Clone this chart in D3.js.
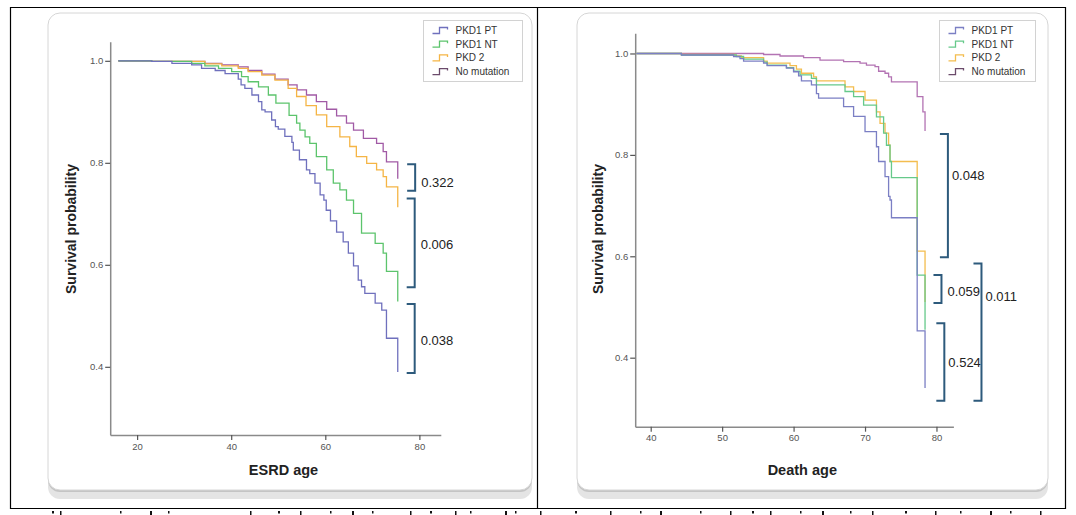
<!DOCTYPE html>
<html><head><meta charset="utf-8">
<script src="https://cdn.jsdelivr.net/npm/d3@7"></script>
<style>
body{margin:0;background:#fff}
svg{display:block}
text{font-family:"Liberation Sans",Arial,sans-serif}
</style>
</head><body>
<svg id="chart" width="1076" height="515"></svg>
<script>
// ---------- data ----------
const seriesNames = ["PKD1 PT", "PKD1 NT", "PKD 2", "No mutation"];
const seriesColorsEsrd = ["#6f70bd", "#5cc46c", "#f5b545", "#a15aa5"];
const seriesColorsDeath = ["#7b7fc4", "#66c98a", "#f3bd4f", "#b373b3"];

// ESRD age panel: [age, survival probability]
const esrdPKD1PT = [[16,1.0],[23.1,0.999],[27.4,0.995],[31.6,0.992],[33.7,0.985],[36.6,0.981],[38.7,0.975],[41.5,0.964],[42.1,0.953],[42.9,0.946],[44.4,0.933],[45.8,0.920],[46.5,0.904],[47.2,0.900],[48.6,0.884],[49.4,0.871],[50.0,0.866],[51.4,0.852],[52.9,0.840],[53.2,0.825],[54.5,0.806],[56.0,0.786],[56.7,0.779],[57.8,0.760],[58.9,0.737],[59.7,0.727],[60.2,0.707],[61.1,0.686],[62.4,0.664],[63.8,0.645],[64.9,0.623],[66.0,0.598],[67.0,0.570],[67.7,0.557],[68.4,0.544],[70.6,0.525],[72.0,0.511],[73.0,0.456],[75.4,0.390]];
const esrdPKD1NT = [[16,1.0],[23.1,0.999],[31.6,0.995],[34.4,0.990],[37.3,0.985],[40.1,0.979],[42.2,0.969],[43.6,0.959],[45.8,0.949],[47.9,0.933],[49.5,0.917],[52.3,0.893],[53.9,0.878],[54.6,0.864],[55.7,0.851],[56.7,0.838],[58.1,0.812],[60.3,0.786],[61.7,0.760],[63.1,0.747],[64.5,0.727],[66.0,0.701],[67.7,0.662],[70.6,0.642],[72.3,0.623],[73.0,0.587],[75.4,0.528]];
const esrdPKD2 = [[16,1.0],[23.1,0.999],[34.4,0.994],[38.0,0.990],[41.5,0.985],[43.6,0.979],[46.5,0.972],[49.3,0.962],[52.1,0.946],[53.9,0.930],[55.9,0.912],[58.1,0.894],[60.3,0.871],[63.1,0.851],[65.2,0.832],[66.6,0.812],[68.8,0.799],[70.9,0.786],[72.3,0.773],[73.0,0.753],[75.4,0.713]];
const esrdNoMutation = [[16,1.0],[23.1,0.999],[34.4,0.995],[38.0,0.992],[41.5,0.988],[43.6,0.981],[46.5,0.974],[49.3,0.964],[52.1,0.953],[54.0,0.943],[56.0,0.933],[58.1,0.920],[60.3,0.905],[62.4,0.892],[64.5,0.878],[66.0,0.864],[68.1,0.848],[70.9,0.838],[72.3,0.822],[73.0,0.802],[75.4,0.769]];

// Death age panel: [age, survival probability]
const deathPKD1PT = [[38,1.0],[44.3,0.997],[51.6,0.994],[52.5,0.990],[53.0,0.985],[55.8,0.981],[56.3,0.976],[59.0,0.971],[60.0,0.964],[60.7,0.956],[61.1,0.946],[62.5,0.938],[63.2,0.921],[63.5,0.912],[67.0,0.895],[68.4,0.876],[70.0,0.846],[71.6,0.816],[71.9,0.787],[72.8,0.757],[73.3,0.718],[73.5,0.711],[73.7,0.676],[77.3,0.453],[78.4,0.340]];
const deathPKD1NT = [[38,1.0],[44.3,0.997],[52.0,0.994],[53.0,0.989],[55.8,0.983],[56.3,0.977],[59.0,0.972],[60.0,0.965],[60.9,0.958],[62.5,0.951],[63.2,0.938],[67.2,0.925],[68.4,0.915],[69.8,0.898],[71.6,0.875],[72.6,0.843],[73.0,0.819],[73.5,0.787],[73.7,0.755],[77.3,0.563],[78.4,0.455]];
const deathPKD2 = [[38,1.0],[44.3,0.998],[51.8,0.995],[52.7,0.992],[55.8,0.985],[56.3,0.981],[59.5,0.976],[60.4,0.969],[61.1,0.961],[62.8,0.954],[63.2,0.946],[67.2,0.934],[68.4,0.925],[70.0,0.908],[71.6,0.885],[72.1,0.862],[72.8,0.843],[73.3,0.819],[73.5,0.787],[77.3,0.610],[78.4,0.510]];
const deathNoMutation = [[38,1.0],[55.8,0.998],[58.1,0.995],[61.4,0.992],[63.7,0.987],[67.0,0.984],[69.3,0.981],[70.2,0.977],[71.4,0.974],[71.9,0.965],[72.8,0.961],[73.3,0.954],[73.7,0.944],[77.3,0.915],[78.1,0.885],[78.4,0.847]];

const esrdAgeTicks = [20, 40, 60, 80];
const deathAgeTicks = [40, 50, 60, 70, 80];
const survTicks = [0.4, 0.6, 0.8, 1.0];

// p-value annotations: label, survival span [top, bottom], bracket age, label survival level
const esrdPLabels = ["0.322", "0.006", "0.038"];
const esrdPSpans = [[0.797, 0.745], [0.730, 0.556], [0.523, 0.388]];
const esrdPAges = [79.1, 79.0, 79.0];
const esrdPLabelSurv = [0.762, 0.640, 0.452];

const deathPLabels = ["0.048", "0.059", "0.524", "0.011"];
const deathPSpans = [[0.841, 0.598], [0.563, 0.508], [0.468, 0.315], [0.586, 0.315]];
const deathPAges = [81.6, 80.7, 81.1, 86.3];
const deathPLabelSurv = [0.760, 0.531, 0.390, 0.520];

// ---------- drawing ----------
const svg = d3.select("#chart");

// outer document frame
const frame = svg.append("g").attr("stroke", "#000").attr("stroke-width", 1.2);
[[10.5,7,10.5,509],[537.5,7,537.5,509],[1065.5,7,1065.5,509],[10,7.5,1066,7.5],[10,508.5,1066,508.5]]
  .forEach(l => frame.append("line").attr("x1", l[0]).attr("y1", l[1]).attr("x2", l[2]).attr("y2", l[3]));
// clipped document text fragments below the frame
const frag = svg.append("g").attr("fill", "#111");
[52,60,120,150,168,250,278,300,330,352,372,410,430,455,470,505,515,540,575,610,640,660,700,730,752,770,800,822,850,872,905,935,960,990,1010,1040]
  .forEach((x, i) => frag.append("rect").attr("x", x).attr("y", 511).attr("width", i % 3 === 0 ? 2 : 1.5).attr("height", i % 2 ? 4 : 2.5));

function panel(o) {
  const g = svg.append("g");
  // card with shadow
  g.append("rect").attr("x", o.box[0]).attr("y", o.box[1] + 5).attr("width", o.box[2]).attr("height", o.box[3] + 4)
    .attr("rx", 12).attr("fill", "#e4e4e4");
  g.append("rect").attr("x", o.box[0]).attr("y", o.box[1] + 2).attr("width", o.box[2]).attr("height", o.box[3])
    .attr("rx", 12).attr("fill", "#c4c4c4");
  g.append("rect").attr("x", o.box[0]).attr("y", o.box[1]).attr("width", o.box[2]).attr("height", o.box[3])
    .attr("rx", 12).attr("fill", "#fff").attr("stroke", "#d6d6d6").attr("stroke-width", 1);

  const x = d3.scaleLinear().domain(o.xDomain).range(o.xRange);
  const y = d3.scaleLinear().domain(o.yDomain).range(o.yRange);

  const xAxis = g.append("g").attr("transform", `translate(0,${o.yRange[0]})`)
    .call(d3.axisBottom(x).tickValues(o.xTicks).tickFormat(d3.format("d")).tickSize(5).tickSizeOuter(0).tickPadding(3));
  const yAxis = g.append("g").attr("transform", `translate(${o.xRange[0]},0)`)
    .call(d3.axisLeft(y).tickValues(survTicks).tickFormat(d3.format(".1f")).tickSize(5).tickSizeOuter(0).tickPadding(2));
  [xAxis, yAxis].forEach(a => {
    a.select(".domain").attr("stroke", "#8a8a8a").attr("stroke-width", 1.5);
    a.selectAll(".tick line").attr("stroke", "#555").attr("stroke-width", 1.2);
    a.selectAll(".tick text").attr("fill", "#555").attr("font-size", 9.5);
  });

  // titles
  g.append("text").attr("x", (o.xRange[0] + o.xRange[1]) / 2 + o.xTitleShift).attr("y", 475)
    .attr("text-anchor", "middle").attr("font-weight", "bold").attr("font-size", 14.5).attr("fill", "#222").text(o.xTitle);
  g.append("text").attr("transform", `translate(${o.yTitleX},229) rotate(-90)`)
    .attr("text-anchor", "middle").attr("font-weight", "bold").attr("font-size", 14).attr("fill", "#222").text("Survival probability");

  // survival curves
  const line = d3.line().x(d => x(d[0])).y(d => y(d[1])).curve(d3.curveStepAfter);
  o.series.slice().reverse().forEach((s, i) => {
    const k = o.series.length - 1 - i;
    g.append("path").datum(s).attr("d", line).attr("fill", "none")
      .attr("stroke", o.colors[k]).attr("stroke-width", 1.3).attr("stroke-linejoin", "miter");
  });

  // p-value brackets
  const bg = g.append("g");
  o.pLabels.forEach((lab, i) => {
    const bx = x(o.pAges[i]);
    const y0 = y(o.pSpans[i][0]), y1 = y(o.pSpans[i][1]);
    bg.append("path").attr("d", `M${bx - 8},${y0} H${bx} V${y1} H${bx - 8}`)
      .attr("fill", "none").attr("stroke", "#2d5a7c").attr("stroke-width", 2);
    bg.append("text").attr("x", bx + o.labelGap[i]).attr("y", y(o.pLabelSurv[i]))
      .attr("dy", "0.35em").attr("font-size", 13).attr("fill", "#222").text(lab);
  });

  // legend
  const lg = g.append("g").attr("transform", `translate(${o.legend[0]},${o.legend[1]})`);
  lg.append("rect").attr("width", o.legend[2]).attr("height", 61).attr("fill", "#fff").attr("stroke", "#d2d2d2");
  seriesNames.forEach((n, i) => {
    const yy = 10 + i * 13.7;
    lg.append("path").attr("d", `M9,${yy + 3} H16 V${yy - 3} H24 V${yy - 1}`).attr("fill", "none")
      .attr("stroke", i === 3 ? "#6b4b6b" : o.colors[i]).attr("stroke-width", 1.3);
    lg.append("text").attr("x", 32).attr("y", yy).attr("dy", "0.35em").attr("font-size", 10).attr("fill", "#333").text(n);
  });
}

panel({
  box: [48, 13, 484, 477],
  xDomain: [14.28, 84.55], xRange: [110.2, 440.8],
  yDomain: [0.2663, 1.0375], yRange: [435, 41.7],
  xTicks: esrdAgeTicks, xTitle: "ESRD age", xTitleShift: 8, yTitleX: 76,
  series: [esrdPKD1PT, esrdPKD1NT, esrdPKD2, esrdNoMutation], colors: seriesColorsEsrd,
  pLabels: esrdPLabels, pSpans: esrdPSpans, pAges: esrdPAges, pLabelSurv: esrdPLabelSurv,
  labelGap: [6, 6, 6],
  legend: [423.5, 20.5, 99]
});

panel({
  box: [577, 13, 471, 477],
  xDomain: [37.83, 82.37], xRange: [635.2, 953.4],
  yDomain: [0.2639, 1.0398], yRange: [426.7, 33.3],
  xTicks: deathAgeTicks, xTitle: "Death age", xTitleShift: 8, yTitleX: 603,
  series: [deathPKD1PT, deathPKD1NT, deathPKD2, deathNoMutation], colors: seriesColorsDeath,
  pLabels: deathPLabels, pSpans: deathPSpans, pAges: deathPAges, pLabelSurv: deathPLabelSurv,
  labelGap: [4, 6, 4, 4],
  legend: [939.5, 20.5, 96]
});
</script>
</body></html>
